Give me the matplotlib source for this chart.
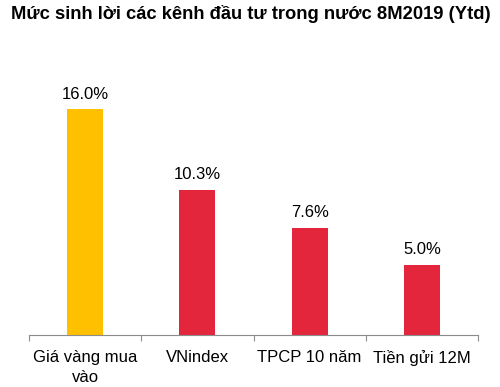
import matplotlib.pyplot as plt
import numpy as np

plt.rcParams['font.family'] = ['Liberation Sans', 'DejaVu Sans']

categories = ["Giá vàng mua\nvào", "VNindex", "TPCP 10 năm", "Tiền gửi 12M"]
returns = [16.0, 10.3, 7.6, 5.0]
colors = ["#FFC000", "#E3263C", "#E3263C", "#E3263C"]

fig = plt.figure(figsize=(5.0, 3.87), dpi=100)
ax = fig.add_axes([0.058, 0.134, 0.898, 0.656])

x = np.arange(len(categories))
bars = ax.bar(x, returns, width=0.32, color=colors)
for xi, v in zip(x, returns):
    ax.text(xi, v + 0.55, f"{v:.1f}%", ha="center", va="bottom", fontsize=12)

ax.set_xlim(-0.5, len(categories) - 0.5)
ax.set_ylim(0, 18)
ax.set_yticks([])
for side in ("left", "right", "top"):
    ax.spines[side].set_visible(False)
ax.spines["bottom"].set_color("#8c8c8c")

# category separators as ticks, labels at centers
ax.set_xticks(np.arange(-0.5, len(categories), 1.0))
ax.set_xticklabels([])
ax.tick_params(axis="x", which="major", direction="out", length=4, color="#8c8c8c")
ax.set_xticks(x, minor=True)
ax.set_xticklabels(categories, minor=True, fontsize=12, linespacing=1.35)
ax.tick_params(axis="x", which="minor", length=0, pad=11)

fig.text(0.022, 0.965, "Mức sinh lời các kênh đầu tư trong nước 8M2019 (Ytd)",
         fontsize=13.2, fontweight="bold", ha="left", va="center")

fig.savefig("out.png", dpi=100)
